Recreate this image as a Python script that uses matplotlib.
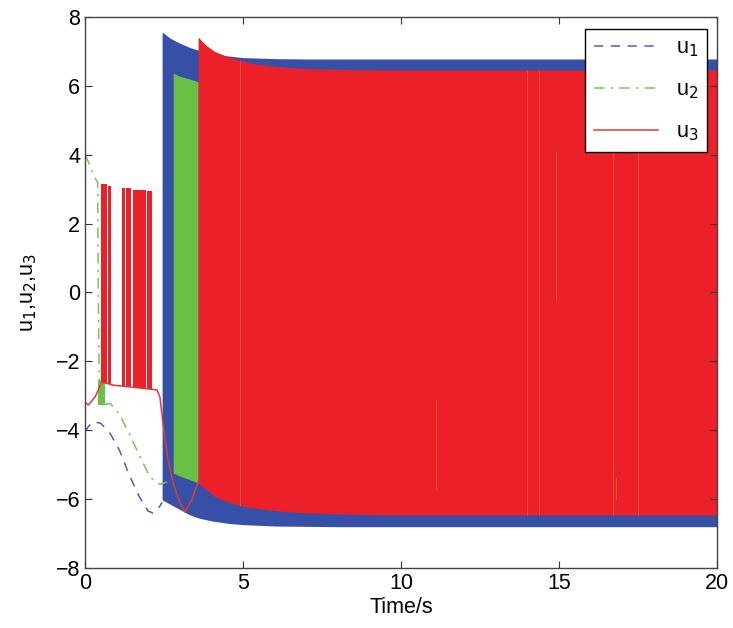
import matplotlib
matplotlib.use("Agg")
import matplotlib.pyplot as plt

plt.rcParams['font.family'] = ['Liberation Sans', 'DejaVu Sans']

# smooth parts of the three control signals
t_u1 = [0, 0.1, 0.25, 0.5, 0.8, 1.1, 1.4, 1.7, 2.0, 2.15, 2.3, 2.44]
u1 = [-4.05, -3.9, -3.75, -3.8, -4.1, -4.6, -5.3, -5.9, -6.35, -6.4, -6.3, -6.1]

t_u2 = [0, 0.15, 0.3, 0.4, 0.42, 0.45, 0.63, 0.8, 1.1, 1.4, 1.74, 2.06, 2.37, 2.6]
u2 = [4.0, 3.7, 3.35, 3.2, 0.0, -2.6, -3.25, -3.22, -3.56, -4.1, -4.77, -5.36, -5.57, -5.5]

t_u3 = [0, 0.1, 0.32, 0.53, 0.89, 1.5, 2.0, 2.28, 2.37, 2.48, 2.63, 2.79, 3.0, 3.16, 3.38, 3.58]
u3 = [-3.18, -3.27, -3.03, -2.6, -2.69, -2.75, -2.8, -2.83, -3.03, -3.9, -4.86, -5.53, -6.1, -6.37, -6.02, -5.5]

# chattering envelopes (upper / lower edge of the dense switching)
t_b1 = [2.44, 2.7, 3.0, 3.3, 3.6, 4.0, 4.5, 5.0, 6.0, 7.0, 8.0, 10, 20]
b1_hi = [7.56, 7.38, 7.24, 7.12, 7.03, 6.95, 6.87, 6.82, 6.79, 6.78, 6.78, 6.78, 6.78]
b1_lo = [-6.02, -6.15, -6.3, -6.45, -6.55, -6.63, -6.7, -6.74, -6.78, -6.79, -6.8, -6.8, -6.8]

t_b2 = [2.79, 3.0, 3.3, 3.58]
b2_hi = [6.37, 6.28, 6.2, 6.12]
b2_lo = [-5.24, -5.33, -5.43, -5.53]

t_b3 = [3.58, 3.8, 4.1, 4.5, 5.0, 5.5, 6.2, 7.0, 8.5, 10, 20]
b3_hi = [7.42, 7.2, 7.0, 6.85, 6.72, 6.62, 6.55, 6.5, 6.47, 6.46, 6.46]
b3_lo = [-5.53, -5.7, -5.92, -6.08, -6.2, -6.28, -6.35, -6.4, -6.44, -6.46, -6.46]

# early bursts of u3 / u2 switching
burst3_start = [0.50, 0.73, 1.16, 1.30, 1.53, 1.95]
burst3_end = [0.69, 0.81, 1.27, 1.45, 1.93, 2.12]
burst3_top = [3.15, 3.1, 3.03, 3.02, 2.97, 2.94]
burst3_bot = [-2.62, -2.66, -2.71, -2.73, -2.77, -2.8]
burst2_start = [0.42]
burst2_end = [0.63]
burst2_top = [-2.54]
burst2_bot = [-3.27]

# thin stray lines inside the red band
glitch_t = [4.9, 11.1, 14.0, 14.37, 14.9, 16.7, 16.8, 17.5]
glitch_lo = [-6.2, -5.7, -6.46, -6.46, -0.2, -6.46, -6.0, -6.46]
glitch_hi = [6.72, -3.1, 6.46, 6.46, 4.1, 6.46, -5.4, 6.46]

c_blue, c_green, c_red = '#3550a6', '#6abf45', '#ec2028'

fig = plt.figure(figsize=(7.33, 6.28), dpi=100)
ax = fig.add_axes([0.116, 0.0955, 0.862, 0.8775])

ax.fill_between(t_b1, b1_lo, b1_hi, color=c_blue, lw=0)
l1, = ax.plot(t_u1, u1, '--', color='#4a5fbb', lw=1.1, dashes=(6, 5), label='u$_1$')

ax.fill_between(t_b2, b2_lo, b2_hi, color=c_green, lw=0)
ax.bar(burst2_start, [a - b for a, b in zip(burst2_top, burst2_bot)], bottom=burst2_bot,
       width=[e - s for s, e in zip(burst2_start, burst2_end)], align='edge', color=c_green, lw=0)
l2, = ax.plot(t_u2, u2, '-.', color='#7ac45a', lw=1.1, dashes=(7, 4, 1.5, 4), label='u$_2$')

ax.fill_between(t_b3, b3_lo, b3_hi, color=c_red, lw=0)
ax.bar(burst3_start, [a - b for a, b in zip(burst3_top, burst3_bot)], bottom=burst3_bot,
       width=[e - s for s, e in zip(burst3_start, burst3_end)], align='edge', color=c_red, lw=0)
l3, = ax.plot(t_u3, u3, '-', color='#e03b3b', lw=1.1, label='u$_3$')
ax.vlines(glitch_t, glitch_lo, glitch_hi, color='#e08a30', lw=0.7, alpha=0.5)

ax.set_xlim(0, 20)
ax.set_ylim(-8, 8)
ax.set_xticks([0, 5, 10, 15, 20])
ax.set_yticks(range(-8, 9, 2))
ax.tick_params(direction='in', top=True, right=True, labelsize=15.5, length=5, color='#333333')
for s in ax.spines.values():
    s.set_color('#444444')
    s.set_linewidth(1.0)
ax.set_xlabel('Time/s', fontsize=15.5, labelpad=2)
ax.set_ylabel('u$_1$,u$_2$,u$_3$', fontsize=15.5, labelpad=12)

leg = ax.legend(handles=[l1, l2, l3], loc='upper right', bbox_to_anchor=(0.984, 0.978),
                borderaxespad=0, fontsize=15.5, handlelength=3.0, labelspacing=0.95,
                fancybox=False, framealpha=1, edgecolor='black')
leg.get_frame().set_linewidth(1.0)

fig.savefig('out.png', dpi=100)
